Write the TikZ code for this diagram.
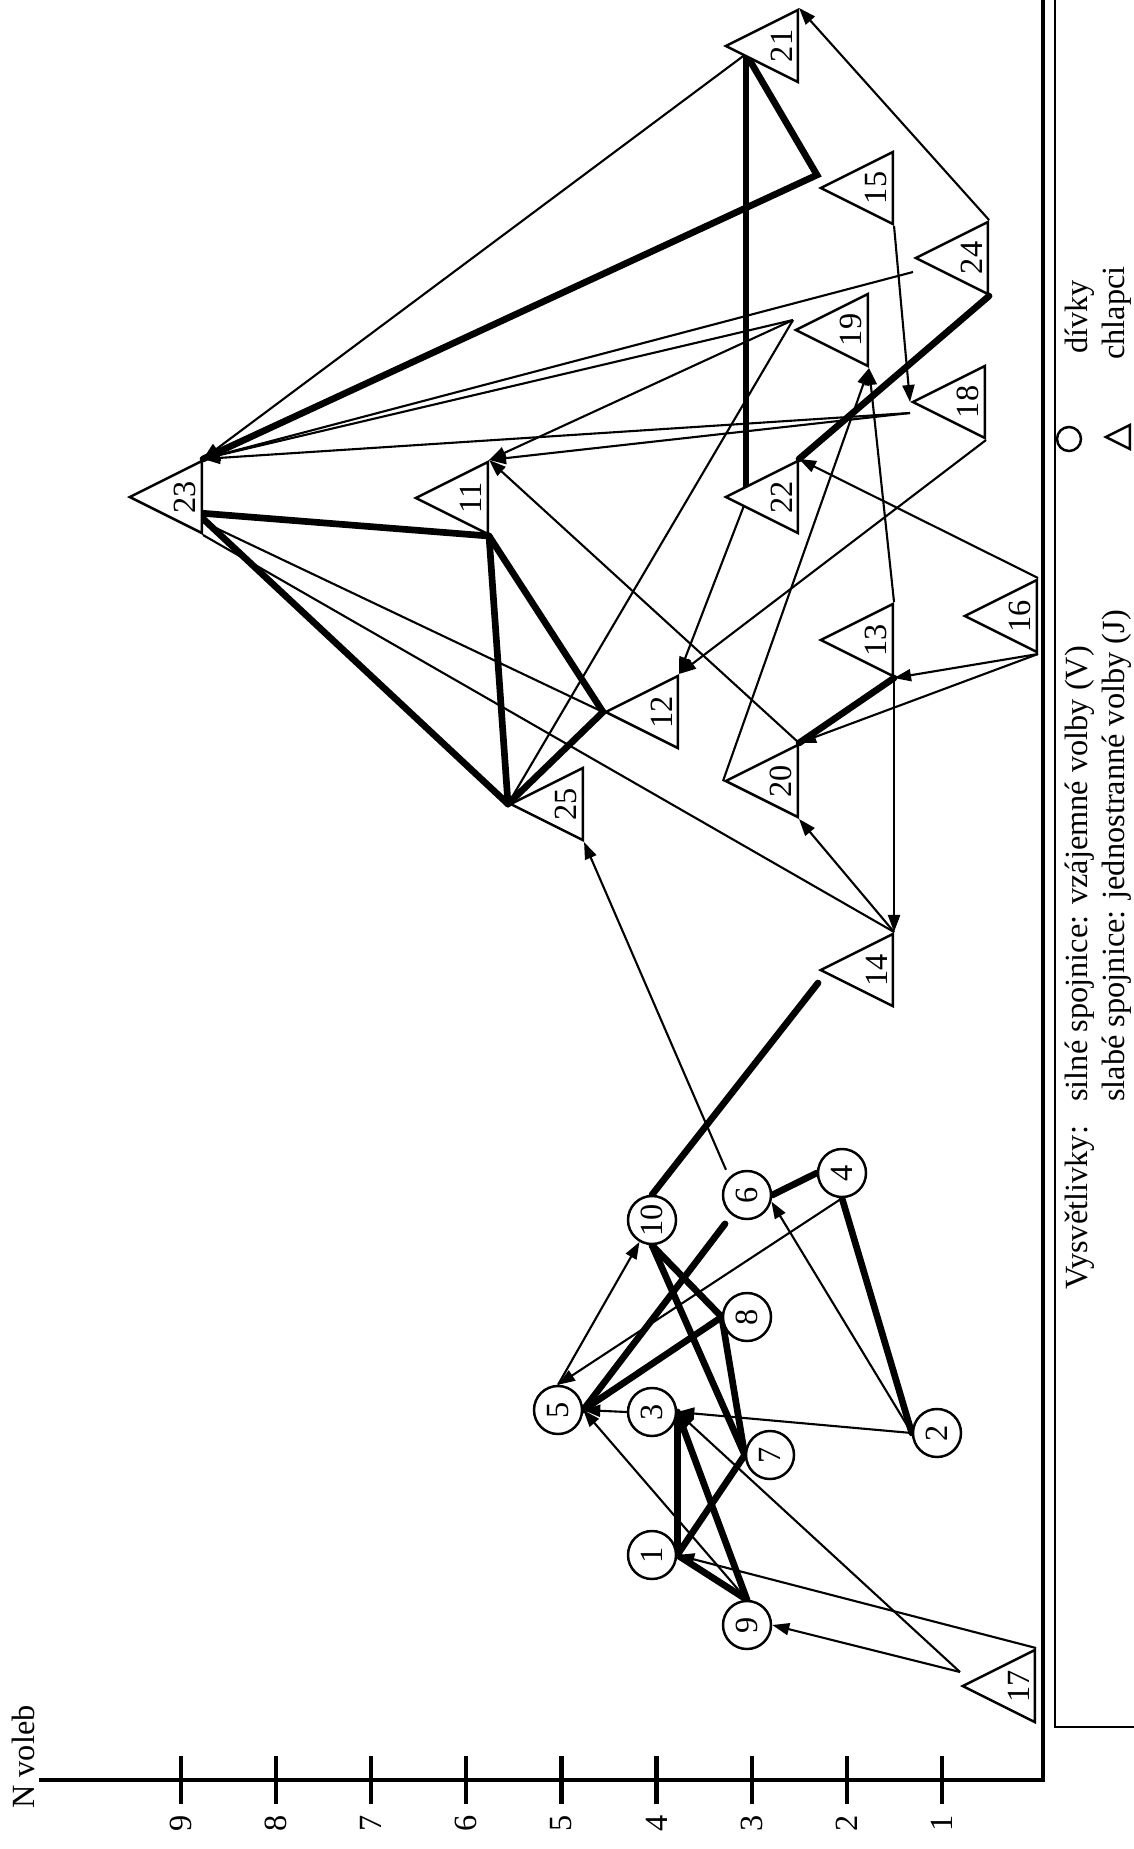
\documentclass[tikz,border=0pt]{standalone}
\usepackage{fontspec}
\setmainfont{Liberation Serif}
\usetikzlibrary{shapes.geometric,arrows.meta,calc,backgrounds}
\tikzset{
  girl/.style={
    circle, draw=black, line width=0.7pt, fill=white, inner sep=0pt, minimum size=0.48cm
  },
  boy/.style={
    isosceles triangle, isosceles triangle apex angle=53.13, isosceles triangle stretches,
    shape border rotate=180, draw=black, line width=0.7pt, fill=white, inner sep=0pt,
    minimum width=0.72cm, minimum height=0.72cm, anchor=apex
  },
  strong/.style={line width=1.9pt, line cap=round},
  weak/.style={line width=0.6pt},
  vote/.style={weak, -{Triangle[length=1.7mm, width=1.2mm]}}
}

\begin{document}
\begin{tikzpicture}[x=0.01cm, y=-0.01cm, font=\fontsize{9.2}{11}\selectfont]
\useasboundingbox (0,0) rectangle (1134,1849);

% osa N voleb a ram
\draw[line width=1.2pt] (39,1780) -- (1043,1780) -- (1043,0);
\foreach \n in {1,...,9} {
  \draw[line width=1.2pt] ({181+(9-\n)*95.1},1756) -- ++(0,48);
  \node[rotate=90] (lv\n) at ({181+(9-\n)*95.1},1823) {\n};
}
\node[rotate=90] (nvol) at (23,1757) {N voleb};

% chlapci
\node[boy] (t23) at (127,497)  {\rotatebox{90}{23}};
\node[boy] (t11) at (413,498)  {\rotatebox{90}{11}};
\node[boy] (t25) at (508,804)  {\rotatebox{90}{25}};
\node[boy] (t12) at (603,712)  {\rotatebox{90}{12}};
\node[boy] (t22) at (723,497)  {\rotatebox{90}{22}};
\node[boy] (t21) at (723,46)   {\rotatebox{90}{21}};
\node[boy] (t15) at (818,188)  {\rotatebox{90}{15}};
\node[boy] (t24) at (913,258)  {\rotatebox{90}{24}};
\node[boy] (t19) at (793,330)  {\rotatebox{90}{19}};
\node[boy] (t18) at (910,402)  {\rotatebox{90}{18}};
\node[boy] (t16) at (962,616)  {\rotatebox{90}{16}};
\node[boy] (t13) at (818,640)  {\rotatebox{90}{13}};
\node[boy] (t20) at (723,781)  {\rotatebox{90}{20}};
\node[boy] (t14) at (818,970)  {\rotatebox{90}{14}};
\node[boy] (t17) at (960,1686) {\rotatebox{90}{17}};

% divky
\node[girl] (g1)  at (652,1555) {\rotatebox{90}{1}};
\node[girl] (g2)  at (937,1433) {\rotatebox{90}{2}};
\node[girl] (g3)  at (652,1412) {\rotatebox{90}{3}};
\node[girl] (g4)  at (842,1173) {\rotatebox{90}{4}};
\node[girl] (g5)  at (558,1410) {\rotatebox{90}{5}};
\node[girl] (g6)  at (747,1195) {\rotatebox{90}{6}};
\node[girl] (g7)  at (770,1455) {\rotatebox{90}{7}};
\node[girl] (g8)  at (747,1317) {\rotatebox{90}{8}};
\node[girl] (g9)  at (747,1625) {\rotatebox{90}{9}};
\node[girl] (g10) at (652,1220) {\rotatebox{90}{10}};

\coordinate (v19) at ($(t19.apex)+(0,-10)$);
\coordinate (kink) at ($(t15.apex)+(-1,-13)$);
\coordinate (p21) at ($(t21.apex)+(23,8)$);
\coordinate (p22) at ($(t22.apex)+(23,-8)$);

\begin{pgfonlayer}{background}
% silne spojnice (V)
\draw[strong] ($(t23.apex)+(72,16)$) -- (t11.left corner);
\draw[strong] ($(t23.apex)+(72,18)$) -- (t25.apex);
\draw[strong] (t11.left corner) -- (t25.apex);
\draw[strong] (t11.left corner) -- (t12.apex);
\draw[strong] (t25.apex) -- (t12.apex);
\draw[strong] (t23.right corner) -- (kink) -- (p21);
\draw[strong] (p21) -- (p22);
\draw[strong] (t22.right corner) -- (t24.left corner);
\draw[strong] (t20.right corner) -- (t13.left corner);
\draw[strong] (g10.north) -- ($(t14.apex)+(0,13)$);
\draw[strong] (g6.east) -- (g4.west);
\draw[strong] (g4.south) -- (g2.west);
\draw[strong, shorten >=0.11cm] (g5.east) -- (g6);
\draw[strong] (g5.east) -- (g8.west);
\draw[strong] (g10.south) -- (g8.west);
\draw[strong] (g10.south) -- (g7.west);
\draw[strong] (g8.west) -- (g7.west);
\draw[strong] (g1.east) -- (g7.west);
\draw[strong] (g3.east) -- (g1.east);
\draw[strong] (g3.east) -- (g9.north);
\draw[strong] (g1.east) -- (g9.north);

% slabe spojnice (J)
\draw[vote] (p21) -- (t23.right corner);
\draw[vote] ($(t24.apex)+(0,14)$) -- (t23.right corner);
\draw[vote] (v19) -- (t23.right corner);
\draw[vote] ($(t18.apex)+(0,11)$) -- (t23.right corner);
\draw[vote] (v19) -- (t11.right corner);
\draw[vote] ($(t18.apex)+(0,11)$) -- (t11.right corner);
\draw[vote] (t20.right corner) -- (t11.right corner);
\draw[weak] (t25.apex) -- (v19);
\draw[vote] (t24.right corner) -- (t21.right corner);
\draw[vote] (t15.left corner) -- (t18.apex);
\draw[vote] (t18.left corner) -- (t12.right corner);
\draw[vote] ($(t22.apex)+(22,6)$) -- (t12.right corner);
\draw[vote] (t16.right corner) -- (t22.right corner);
\draw[vote] (t16.left corner) -- (t13.left corner);
\draw[vote] (t16.left corner) -- (t20.right corner);
\draw[vote] (t13.right corner) -- (t19.left corner);
\draw[vote] (t20.apex) -- (t19.left corner);
\draw[vote] (t13.left corner) -- (t14.right corner);
\draw[vote] (t14.right corner) -- (t20.left corner);
\draw[weak] (t23.left corner) -- (t14.right corner);
\draw[weak] ($(t23.apex)+(72,23)$) -- (t12.apex);
\draw[vote, shorten <=0.08cm] (g6.135) -- (t25.left corner);
\draw[vote] (g5.north) -- (g10);
\draw[vote] (g4.south) -- (g5.north);
\draw[vote] (g2.west) -- (g6.-15);
\draw[vote] (g2.west) -- (g3.east);
\draw[vote] (g3.west) -- (g5.east);
\draw[vote] (g9.north) -- (g5.east);
\draw[vote] (t17.right corner) -- (g1.east);
\draw[vote] ($(t17.apex)+(0,-14)$) -- (g3.east);
\draw[vote] ($(t17.apex)+(0,-14)$) -- (g9.east);
\end{pgfonlayer}

% vysvetlivky
\draw[line width=0.6pt] (1055,0) -- (1055,1727) -- (1134,1727);
\node[rotate=90, anchor=base west] (lgA) at (1087,1302) {Vysvětlivky:};
\node[rotate=90, anchor=base west] (lgV) at (1087,1114) {silné spojnice: vzájemné volby (V)};
\node[rotate=90, anchor=base west] (lgJ) at (1124,1114) {slabé spojnice: jednostranné volby (J)};
\node[circle, draw=black, line width=0.7pt, inner sep=0pt, minimum size=0.24cm] (symg) at (1069,439) {};
\node[boy, minimum width=0.24cm, minimum height=0.24cm] (symb) at (1103,437) {};
\node[rotate=90, anchor=base west] (lgG) at (1087,366) {dívky};
\node[rotate=90, anchor=base west] (lgB) at (1124,372) {chlapci};
\end{tikzpicture}
\end{document}
